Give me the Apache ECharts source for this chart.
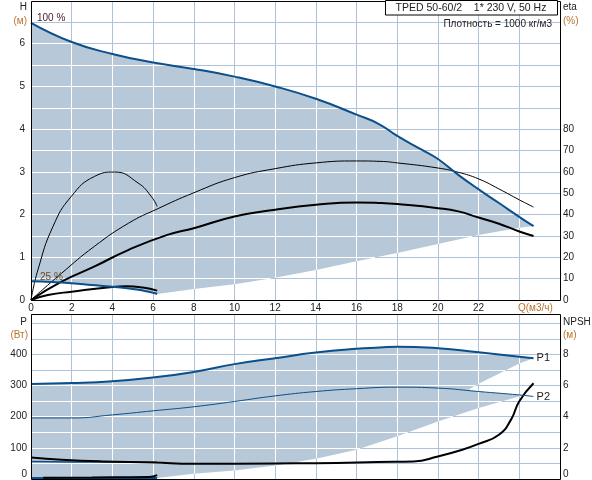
<!DOCTYPE html>
<html>
<head>
<meta charset="utf-8">
<script src="https://cdn.jsdelivr.net/npm/echarts@6/dist/echarts.min.js"></script>
<style>
  html, body { margin: 0; padding: 0; background: #fff; }
  #main { width: 592px; height: 480px; }
</style>
</head>
<body>
<div id="main"></div>
<script>
// Q в м3/ч, H в м, eta в %, P в Вт, NPSH в м
const h100 = [[0, 6.49], [2, 6.04], [4, 5.76], [6, 5.56], [8, 5.41], [10, 5.23], [12, 5.0], [14, 4.71], [16, 4.34],
    [17.1, 4.12], [18, 3.84], [19.2, 3.52], [20, 3.30], [21, 2.93], [22, 2.59], [23, 2.27], [24.05, 1.93], [24.7, 1.73]];
const h25 = [[0, 0.44], [1, 0.42], [2, 0.39], [3, 0.35], [4, 0.31], [5, 0.26], [5.5, 0.22], [6, 0.17], [6.2, 0.14]];
const hLow = [[6.2, 0.14], [8, 0.26], [10, 0.37], [12, 0.52], [14, 0.70], [16, 0.91], [18, 1.10], [20, 1.31],
    [22, 1.52], [24, 1.69], [24.7, 1.73]];

const eta100 = [[0, 0], [1.5, 12.5], [3.1, 25], [4.8, 36], [6.2, 42.6], [8, 50.2], [10, 57.3], [12, 61.5], [14, 64.2],
    [16, 65.1], [17.2, 64.9], [18, 64.2], [20, 61.8], [21, 59.8], [22, 56.7], [23, 52.0], [24, 46.9], [24.7, 43.5]];
const etaTot100 = [[0, 0], [1.5, 8.6], [3.1, 15.6], [4.8, 23.5], [6.7, 30.5], [8, 33.6], [10, 39.1], [12, 42.3],
    [14, 44.6], [16, 45.7], [17.2, 45.4], [18, 44.9], [20, 43.0], [21, 41.5], [22, 38.6], [23, 35.7], [24, 32.1], [24.7, 30.0]];
const eta25 = [[0, 0], [0.34, 14.1], [1.08, 34.4], [1.98, 48.5], [3.13, 57.9], [4.11, 59.9], [5.26, 54.8],
    [5.91, 48.5], [6.2, 43.8]];
const etaTot25 = [[0, 0], [0.83, 2.3], [2, 3.9], [4, 6.1], [4.7, 6.4], [5.5, 5.8], [6.2, 4.4]];

const p1Max = [[0, 305], [2, 308], [4, 314], [6, 326], [8, 344], [10, 369], [12, 388], [14, 406], [16, 418],
    [17.15, 422], [18, 425], [20, 420], [22, 407], [24, 393], [24.7, 388]];
const p2Max = [[0, 196], [2, 196], [4, 206], [6, 219], [8, 232], [10, 249], [12, 267], [14, 281], [16, 290],
    [18, 295], [20, 292], [22, 281], [24, 270], [24.7, 265]];
const p1Min = [[0, 56], [2, 55], [4, 55], [6.2, 54]];
const p2Min = [[0, 3], [2, 3], [4, 3], [6.2, 3]];
const p1Edge = [[21.5, 287], [22, 306], [24, 371], [24.7, 388]];
const p2Cut = [[21.5, 287], [22, 281], [24, 270], [24.2, 269]];
const p2Edge = [[6.2, 3], [8, 17], [10, 27], [12, 43], [14, 65], [16, 94], [18, 137], [20, 185], [22, 228], [24.2, 269]];

const npsh100 = [[0, 1.38], [1.5, 1.24], [3.5, 1.13], [6, 1.06], [8, 0.98], [12, 1.0], [15, 1.03], [17, 1.10],
    [18.8, 1.13], [20, 1.45], [21.2, 1.88], [22, 2.26], [23, 2.84], [23.6, 3.83], [24, 5.0], [24.7, 6.15]];
const npsh25 = [[0.6, 0.08], [3, 0.1], [5.8, 0.13], [6.2, 0.25]];

const qGrid = [2, 4, 6, 8, 10, 12, 14, 16, 18, 20, 22, 24];
const hGrid = [0.5, 1, 1.5, 2, 2.5, 3, 3.5, 4, 4.5, 5, 5.5, 6, 6.5];
const pGrid = [50, 100, 150, 200, 250, 300, 350, 400, 450, 500];

const FILL = '#b7c8d8';
const GRIDC = '#b0c2d8';
const BLUE = '#0b4f8b';
const TXT = '#222';
const ORANGE = '#b8742a';
const FONT = 'Liberation Sans, Arial, sans-serif';

const topPoly = h100.concat(hLow.slice().reverse(), h25.slice().reverse());
const botPoly = p1Max.concat(p1Edge.slice().reverse(), p2Cut, p2Edge.slice().reverse(), p2Min.slice().reverse());

function crisp(p) {
    const d = Math.round(p * 2);
    return (d + 1) % 2 === 0 ? d / 2 : (d + 1) / 2;
}

// где линия сетки (x=c или y=c) пересекает контур заливки
function cuts(pts, c, dim) {
    const o = 1 - dim;
    const res = [];
    for (let i = 0; i < pts.length; i++) {
        const a = pts[i], b = pts[(i + 1) % pts.length];
        if ((a[dim] <= c && b[dim] > c) || (b[dim] <= c && a[dim] > c)) {
            const t = (c - a[dim]) / (b[dim] - a[dim]);
            res.push(a[o] + t * (b[o] - a[o]));
        }
    }
    return res.sort(function (m, n) { return m - n; });
}

function bar(c, dim, from, to, color) {
    const shape = dim === 0
        ? {x: c - 0.5, y: from, width: 1, height: to - from}
        : {x: from, y: c - 0.5, width: to - from, height: 1};
    return {type: 'rect', shape: shape, style: {fill: color}};
}

// голубая сетка на всю область графика
function gridItem(vGrid) {
    return function (params, api) {
        const cs = params.coordSys;
        const kids = [];
        qGrid.forEach(function (q) { kids.push(bar(crisp(api.coord([q, 0])[0]), 0, cs.y, cs.y + cs.height, GRIDC)); });
        vGrid.forEach(function (v) { kids.push(bar(crisp(api.coord([0, v])[1]), 1, cs.x, cs.x + cs.width, GRIDC)); });
        return {type: 'group', children: kids};
    };
}

function fillItem(poly) {
    return function (params, api) {
        return {type: 'polygon', shape: {points: poly.map(function (p) { return api.coord(p); })}, style: {fill: FILL}};
    };
}

function custom(xi, yi, z, fn) {
    return {type: 'custom', xAxisIndex: xi, yAxisIndex: yi, data: [[0, 0]], z: z, renderItem: fn};
}

function line(data, xi, yi, color, width, extra) {
    return Object.assign({
        type: 'line', xAxisIndex: xi, yAxisIndex: yi, data: data, symbol: 'none',
        smooth: 0.5, z: 5, silent: true,
        lineStyle: {color: color, width: width}
    }, extra || {});
}

function txt(x, y, s, align, color, size) {
    return {type: 'text', x: x, y: y, z: 100, silent: true,
        style: {text: s, fill: color || TXT, font: (size || 10) + 'px ' + FONT,
            align: align || 'left', verticalAlign: 'middle'}};
}

const axisBase = {
    type: 'value', axisLine: {show: false}, axisTick: {show: false}, splitLine: {show: false}
};
const lbl = {fontSize: 10, color: TXT, fontFamily: FONT};
const zeroRich = {z: {fontSize: 10, color: TXT, fontFamily: FONT, padding: [0, 0, 10, 0]}};

const chart = echarts.init(document.getElementById('main'));
const option = {
    animation: false,
    grid: [
        {left: 31, top: 1, width: 529, height: 299},
        {left: 31, top: 314, width: 529, height: 165}
    ],
    xAxis: [
        Object.assign({}, axisBase, {gridIndex: 0, min: 0, max: 26, interval: 2,
            axisLabel: Object.assign({margin: 3, formatter: function (v) { return v <= 22 ? v : ''; }}, lbl)}),
        Object.assign({}, axisBase, {gridIndex: 1, min: 0, max: 26, interval: 2, axisLabel: {show: false}})
    ],
    yAxis: [
        Object.assign({}, axisBase, {gridIndex: 0, min: 0, max: 7, interval: 0.5,
            axisLabel: Object.assign({margin: 6, formatter: function (v) {
                return (Math.abs(v - Math.round(v)) < 1e-6 && v <= 6) ? String(Math.round(v)) : '';
            }}, lbl)}),
        Object.assign({}, axisBase, {gridIndex: 0, position: 'right', min: 0, max: 140, interval: 10,
            axisLabel: Object.assign({margin: 3, formatter: function (v) { return v <= 80 ? v : ''; }}, lbl)}),
        Object.assign({}, axisBase, {gridIndex: 1, min: 0, max: 530, interval: 50,
            axisLabel: Object.assign({margin: 4, rich: zeroRich, formatter: function (v) {
                if (v === 0) return '{z|0}';
                return (v % 100 === 0 && v <= 400) ? String(v) : '';
            }}, lbl)}),
        Object.assign({}, axisBase, {gridIndex: 1, position: 'right', min: 0, max: 10.6, interval: 2,
            axisLabel: Object.assign({margin: 3, rich: zeroRich, formatter: function (v) {
                if (v === 0) return '{z|0}';
                return v <= 8 ? String(v) : '';
            }}, lbl)})
    ],
    series: [
        custom(0, 0, 1, gridItem(hGrid)),
        custom(0, 0, 2, fillItem(topPoly)),
        custom(1, 2, 1, gridItem(pGrid)),
        custom(1, 2, 2, fillItem(botPoly)),
        line(eta25, 0, 1, '#000', 1),
        line(eta100, 0, 1, '#000', 1),
        line(etaTot100, 0, 1, '#000', 2),
        line(etaTot25, 0, 1, '#000', 2),
        line(h25, 0, 0, BLUE, 2),
        line(h100, 0, 0, BLUE, 2),
        line(p1Min, 1, 2, BLUE, 1.5),
        line(p2Min, 1, 2, BLUE, 2),
        line(npsh25, 1, 3, '#000', 2),
        line(npsh100, 1, 3, '#000', 2),
        line(p2Max, 1, 2, BLUE, 1, {endLabel: {show: true, formatter: 'P2', fontSize: 11, color: TXT,
            fontFamily: FONT, distance: 3}}),
        line(p1Max, 1, 2, BLUE, 2, {endLabel: {show: true, formatter: 'P1', fontSize: 11, color: TXT,
            fontFamily: FONT, distance: 3}})
    ],
    graphic: [
        {type: 'rect', z: 100, silent: true, shape: {x: 31.5, y: 1.5, width: 529, height: 299},
            style: {fill: 'none', stroke: '#000', lineWidth: 1}},
        {type: 'rect', z: 100, silent: true, shape: {x: 31.5, y: 314.5, width: 529, height: 165},
            style: {fill: 'none', stroke: '#000', lineWidth: 1}},
        {type: 'rect', z: 100, silent: true, shape: {x: 385.5, y: 0.5, width: 172, height: 14.5},
            style: {fill: '#fff', stroke: '#000', lineWidth: 1}},
        txt(471, 8, 'TPED 50-60/2    1* 230 V, 50 Hz', 'center', TXT, 10.5),
        txt(552, 24, 'Плотность = 1000 кг/м3', 'right', TXT, 10),
        txt(27, 7, 'H', 'right'),
        txt(27, 21, '(м)', 'right', ORANGE),
        txt(563, 7, 'eta', 'left'),
        txt(563, 21, '(%)', 'left', ORANGE),
        txt(27, 322, 'P', 'right'),
        txt(28, 335, '(Вт)', 'right', ORANGE),
        txt(563, 322, 'NPSH', 'left'),
        txt(563, 335, '(м)', 'left', ORANGE),
        txt(518, 308, 'Q(м3/ч)', 'left', ORANGE),
        txt(37, 18, '100 %', 'left', '#4a1a2a'),
        txt(40, 277, '25 %', 'left', '#6a4a20')
    ]
};
chart.setOption(option);

// белые линии сетки внутри заливки, по пикселям осей
try {
    const extra = [];
    [[topPoly, hGrid, {xAxisIndex: 0, yAxisIndex: 0}], [botPoly, pGrid, {xAxisIndex: 1, yAxisIndex: 2}]].forEach(function (g) {
        const finder = g[2];
        const pts = g[0].map(function (p) { return chart.convertToPixel(finder, p); });
        function add(c, dim) {
            const r = cuts(pts, c, dim);
            for (let i = 0; i + 1 < r.length; i += 2) {
                extra.push(Object.assign({z: 4, silent: true}, bar(c, dim, r[i], r[i + 1], '#fff')));
            }
        }
        qGrid.forEach(function (q) { add(crisp(chart.convertToPixel(finder, [q, 0])[0]), 0); });
        g[1].forEach(function (v) { add(crisp(chart.convertToPixel(finder, [0, v])[1]), 1); });
    });
    chart.setOption({graphic: option.graphic.concat(extra)});
} catch (e) {}
</script>
</body>
</html>
